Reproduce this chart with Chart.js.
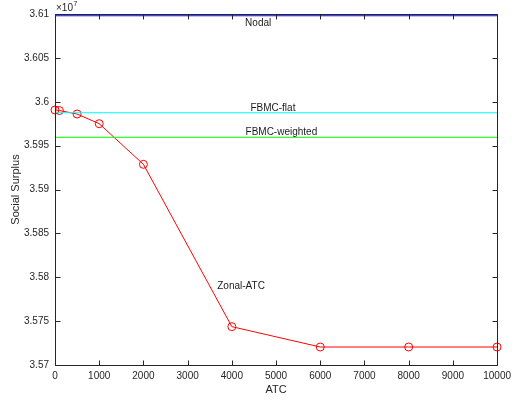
<!DOCTYPE html>
<html><head><meta charset="utf-8">
<script src="https://cdn.jsdelivr.net/npm/chart.js@4"></script>
<style>html,body{margin:0;padding:0;background:#fff}</style>
</head><body>
<canvas id="c" width="516" height="402"></canvas>
<script>
// ATC capacity limits and resulting social surplus
const atcLimits = [0, 100, 500, 1000, 2000, 4000, 6000, 8000, 10000];
const zonalSurplus = [35990600, 35990000, 35986000, 35975000, 35928700, 35743700, 35720500, 35720500, 35720500];
const nodalSurplus = 36098000;
const fbmcFlatSurplus = 35987500;
const fbmcWeightedSurplus = 35959500;

// axis ticks
const xTicks = [0, 1000, 2000, 3000, 4000, 5000, 6000, 7000, 8000, 9000, 10000];
const yTicks = [35700000, 35750000, 35800000, 35850000, 35900000, 35950000, 36000000, 36050000, 36100000];

// series names and where their text labels sit (data coordinates)
const seriesNames = ['Zonal-ATC', 'Nodal', 'FBMC-flat', 'FBMC-weighted'];
const labelAnchors = [[3670, 35790000], [4300, 36089000], [4420, 35992500], [4310, 35964700]];

const FONT = '"Liberation Sans", Arial, Helvetica, sans-serif';
const AXIS = '#262626';
const xMin = xTicks[0], xMax = xTicks[xTicks.length - 1];

function flat(v) { return [{x: xMin, y: v}, {x: xMax, y: v}]; }

const boxPlugin = {
  id: 'box',
  afterDraw(chart) {
    const ctx = chart.ctx, a = chart.chartArea;
    const xs = chart.scales.x, ys = chart.scales.y;
    const L = Math.round(a.left) + 0.5, R = Math.round(a.right) + 0.5;
    const T = Math.round(a.top) + 0.5, B = Math.round(a.bottom) + 0.5;
    ctx.save();
    ctx.strokeStyle = AXIS;
    ctx.lineWidth = 1;
    ctx.beginPath();
    ctx.rect(L, T, R - L, B - T);
    const tl = 5;
    xTicks.forEach(v => {
      const px = Math.round(xs.getPixelForValue(v)) + 0.5;
      ctx.moveTo(px, B); ctx.lineTo(px, B - tl);
      ctx.moveTo(px, T); ctx.lineTo(px, T + tl);
    });
    yTicks.forEach(v => {
      const py = Math.round(ys.getPixelForValue(v)) + 0.5;
      ctx.moveTo(L, py); ctx.lineTo(L + tl, py);
      ctx.moveTo(R, py); ctx.lineTo(R - tl, py);
    });
    ctx.stroke();

    // exponent marker above the y axis
    ctx.fillStyle = AXIS;
    ctx.textAlign = 'left';
    ctx.textBaseline = 'alphabetic';
    ctx.font = '10px ' + FONT;
    ctx.fillText('\u00d710', a.left + 1, 11);
    const w = ctx.measureText('\u00d710').width;
    ctx.font = '7px ' + FONT;
    ctx.fillText('7', a.left + 1 + w + 0.5, 6);

    // axis titles
    ctx.font = '11px ' + FONT;
    ctx.textAlign = 'center';
    ctx.textBaseline = 'middle';
    ctx.fillText('ATC', (a.left + a.right) / 2, 390);
    ctx.save();
    ctx.translate(16, (a.top + a.bottom) / 2);
    ctx.rotate(-Math.PI / 2);
    ctx.fillText('Social Surplus', 0, 0);
    ctx.restore();

    // series labels
    ctx.font = '10px ' + FONT;
    ctx.textAlign = 'left';
    ctx.fillStyle = '#1a1a1a';
    seriesNames.forEach((name, i) => {
      const [lx, ly] = labelAnchors[i];
      ctx.fillText(name, xs.getPixelForValue(lx), ys.getPixelForValue(ly));
    });
    ctx.restore();
  }
};

new Chart(document.getElementById('c'), {
  type: 'line',
  data: {
    datasets: [
      { label: seriesNames[1], data: flat(nodalSurplus), borderColor: '#0000ff', borderWidth: 1, pointRadius: 0, clip: false },
      { label: seriesNames[2], data: flat(fbmcFlatSurplus), borderColor: '#00ffff', borderWidth: 1, pointRadius: 0, clip: false },
      { label: seriesNames[3], data: flat(fbmcWeightedSurplus), borderColor: '#00ff00', borderWidth: 1, pointRadius: 0, clip: false },
      { label: seriesNames[0], data: atcLimits.map((x, i) => ({x, y: zonalSurplus[i]})),
        borderColor: '#ff0000', borderWidth: 1, pointRadius: 4, pointBorderWidth: 1,
        pointStyle: 'circle', pointBackgroundColor: 'rgba(0,0,0,0)', pointBorderColor: '#ff0000', clip: false }
    ]
  },
  options: {
    responsive: false,
    animation: false,
    devicePixelRatio: 1,
    layout: { padding: { left: 0, right: 15, top: 14, bottom: 0 } },
    plugins: { legend: { display: false }, tooltip: { enabled: false } },
    elements: { line: { tension: 0 } },
    scales: {
      x: {
        type: 'linear', min: xMin, max: xMax,
        afterBuildTicks: s => { s.ticks = xTicks.map(v => ({value: v})); },
        afterFit: s => { s.height = 37; },
        grid: { display: false, drawTicks: false },
        border: { display: false },
        ticks: { padding: 5, maxRotation: 0, autoSkip: false, color: AXIS, font: { family: FONT, size: 10 },
                 callback: v => String(v) }
      },
      y: {
        type: 'linear', min: yTicks[0], max: yTicks[yTicks.length - 1],
        afterBuildTicks: s => { s.ticks = yTicks.map(v => ({value: v})); },
        afterFit: s => { s.width = 55; },
        grid: { display: false, drawTicks: false },
        border: { display: false },
        ticks: { padding: 6, color: AXIS, font: { family: FONT, size: 10 },
                 callback: v => String(Math.round(v / 1e4) / 1e3) }
      }
    }
  },
  plugins: [boxPlugin]
});
</script>
</body></html>
